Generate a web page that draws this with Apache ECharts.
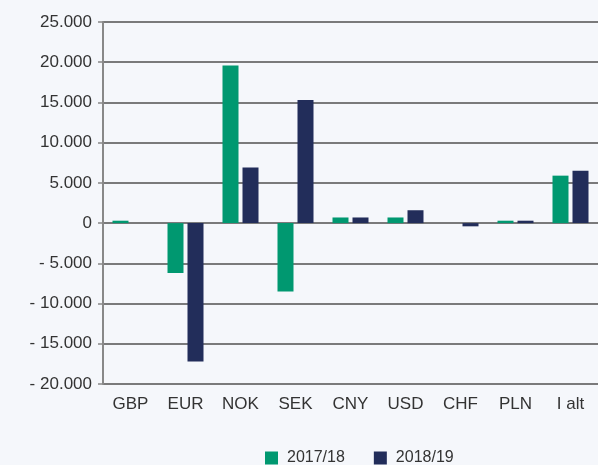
<!DOCTYPE html>
<html>
<head>
<meta charset="utf-8">
<script src="https://cdn.jsdelivr.net/npm/echarts@6/dist/echarts.min.js"></script>
<style>
    html, body { margin: 0; padding: 0; background: #f5f7fb; }
    #chart { width: 598px; height: 465px; }
</style>
</head>
<body>
<div id="chart"></div>
<script>
    // currencies
    var categories = ['GBP', 'EUR', 'NOK', 'SEK', 'CNY', 'USD', 'CHF', 'PLN', 'I alt']
    var seriesNames = ['2017/18', '2018/19']
    var values1718 = [300, -6200, 19600, -8500, 700, 700, 0, 300, 5900]
    var values1819 = [0, -17200, 6900, 15300, 700, 1600, -400, 300, 6500]

    function fmt(v) {
        var s = Math.abs(v).toString().replace(/\B(?=(\d{3})+(?!\d))/g, '.')
        return v < 0 ? '- ' + s : s
    }

    var chart = echarts.init(document.getElementById('chart'))
    chart.setOption({
        backgroundColor: '#f5f7fb',
        textStyle: {fontFamily: 'Liberation Sans, Arial, sans-serif'},
        legend: {
            data: seriesNames,
            top: 450,
            left: 265,
            padding: 0,
            itemWidth: 13,
            itemHeight: 13,
            itemGap: 29,
            icon: 'rect',
            textStyle: {fontSize: 16, color: '#333', padding: [0, 0, 0, 4]}
        },
        grid: {
            top: 22,
            left: 103,
            right: 0,
            bottom: 81
        },
        xAxis: {
            type: 'category',
            data: categories,
            axisLine: {show: false},
            axisTick: {show: false},
            axisLabel: {fontSize: 17, color: '#333', margin: 12}
        },
        yAxis: {
            type: 'value',
            min: -20000,
            max: 25000,
            interval: 5000,
            axisLine: {show: true, lineStyle: {color: '#888', width: 2}},
            axisTick: {show: true, length: 5, lineStyle: {color: '#888', width: 1.5}},
            axisLabel: {fontSize: 17, color: '#333', margin: 11, formatter: fmt},
            splitLine: {lineStyle: {color: '#505050', width: 1.5}}
        },
        series: [
            {
                name: seriesNames[0],
                type: 'bar',
                data: values1718,
                barWidth: 16,
                barGap: '25%',
                itemStyle: {color: '#009870'}
            },
            {
                name: seriesNames[1],
                type: 'bar',
                data: values1819,
                barWidth: 16,
                itemStyle: {color: '#222d5a'}
            }
        ]
    })
</script>
</body>
</html>
